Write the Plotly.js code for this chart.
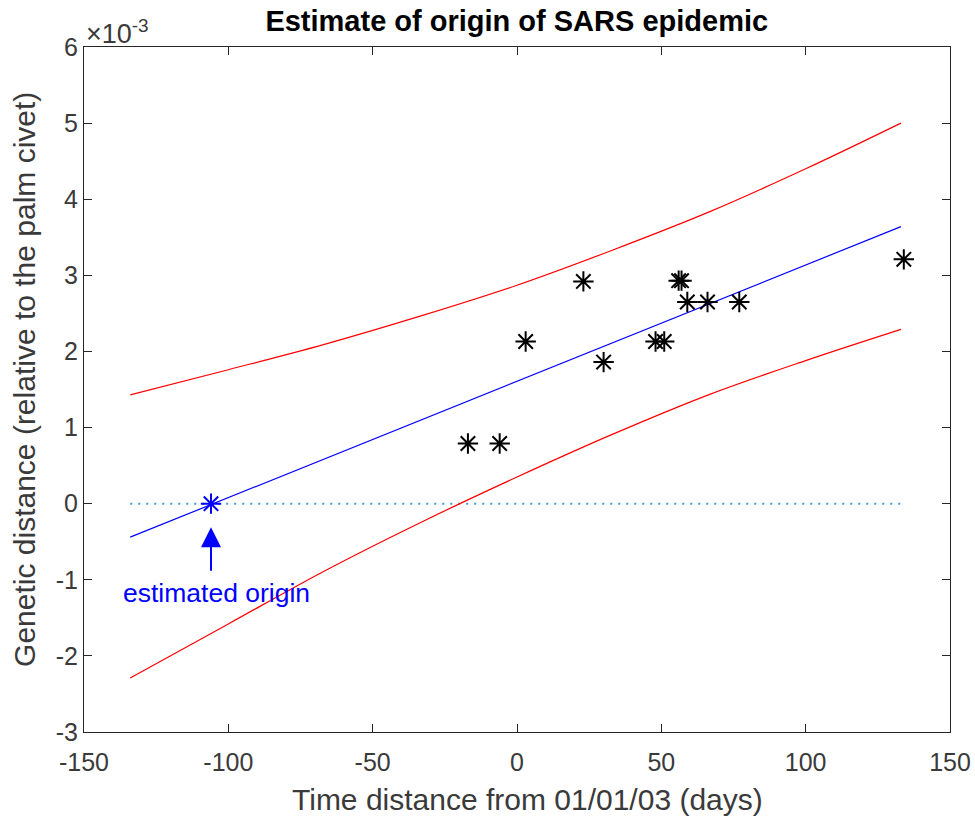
<!DOCTYPE html>
<html>
<head>
<meta charset="utf-8">
<script src="https://cdn.plot.ly/plotly-3.0.1.min.js"></script>
<style>html,body{margin:0;padding:0;background:#fff;}#chart{width:975px;height:818px;}</style>
</head>
<body>
<div id="chart"></div>
<script>
// Values in units of 1e-3 (genetic distance), x in days from 01/01/03
const sampleDays = [-17, -6, 3, 23, 30, 48, 51, 56, 57, 59, 66, 77, 134];
const sampleDist = [0.79, 0.79, 2.13, 2.92, 1.86, 2.13, 2.13, 2.93, 2.93, 2.65, 2.65, 2.65, 3.21];

const fitDays = [-134, 133];
const fitDist = [-0.44, 3.64];

const bandDays  = [-134, -100, -67, -33, 0, 33, 67, 100, 133];
const bandUpper = [1.43, 1.76, 2.09, 2.47, 2.87, 3.33, 3.84, 4.40, 5.00];
const bandLower = [-2.29, -1.58, -0.89, -0.24, 0.35, 0.91, 1.44, 1.88, 2.29];

const zeroDays = [-134, 133];
const zeroDist = [0, 0];

const originDay = [-106];
const originDist = [0];

const xTicks = [-150, -100, -50, 0, 50, 100, 150];
const yTicks = [-3, -2, -1, 0, 1, 2, 3, 4, 5, 6];

const FONT = 'Liberation Sans, Arial, Helvetica, sans-serif';
const AX = '#262626';
const TXT = '#3a3a3a';

const traces = [
  {x: zeroDays, y: zeroDist, mode: 'lines', line: {color: '#3d9be0', width: 2, dash: '2px,6px'}, hoverinfo: 'skip'},
  {x: bandDays, y: bandUpper, mode: 'lines', line: {color: '#ff0000', width: 1.2, shape: 'spline'}},
  {x: bandDays, y: bandLower, mode: 'lines', line: {color: '#ff0000', width: 1.2, shape: 'spline'}},
  {x: fitDays, y: fitDist, mode: 'lines', line: {color: '#0000ff', width: 1.2}},
  {x: sampleDays, y: sampleDist, mode: 'markers',
   marker: {symbol: 'asterisk-open', size: 17, color: '#000000', line: {color: '#000000', width: 2}}},
  {x: originDay, y: originDist, mode: 'markers',
   marker: {symbol: 'asterisk-open', size: 17, color: '#0000ff', line: {color: '#0000ff', width: 2}}}
];

const axisCommon = {
  showgrid: false, zeroline: false, showline: true, mirror: 'ticks',
  linecolor: AX, linewidth: 1, ticks: 'inside', ticklen: 8, tickcolor: AX, tickwidth: 1,
  tickfont: {family: FONT, size: 25, color: TXT}
};

const layout = {
  width: 975, height: 818,
  margin: {l: 84, r: 25, t: 47, b: 86},
  paper_bgcolor: '#ffffff', plot_bgcolor: '#ffffff',
  showlegend: false,
  title: {text: '<b>Estimate of origin of SARS epidemic</b>', font: {family: FONT, size: 29, color: '#000000'},
          x: 0.53, xanchor: 'center', y: 0.974, yanchor: 'middle', yref: 'container'},
  xaxis: Object.assign({}, axisCommon, {
    range: [-150, 150], tickvals: xTicks, ticktext: xTicks.map(String), ticklabelstandoff: 8,
    title: {text: ''}
  }),
  yaxis: Object.assign({}, axisCommon, {
    range: [-3, 6], tickvals: yTicks, ticktext: yTicks.map(String),
    title: {text: ''}
  }),
  annotations: [
    {xref: 'paper', yref: 'paper', x: 0, y: 1, xanchor: 'left', yanchor: 'bottom', showarrow: false,
     text: '×10<sup>-3</sup>', font: {family: FONT, size: 27, color: TXT}, yshift: -4},
    {xref: 'x', yref: 'y', x: -106, y: -0.31, axref: 'x', ayref: 'y', ax: -106, ay: -0.9,
     text: '', showarrow: true, arrowhead: 2, arrowsize: 2, arrowwidth: 2, arrowcolor: '#0000ff'},
    {xref: 'x', yref: 'y', x: -104, y: -1.17, showarrow: false, text: 'estimated origin',
     font: {family: FONT, size: 26.5, color: '#0000ff'}, xanchor: 'center', yanchor: 'middle'},
    {xref: 'paper', yref: 'paper', x: 0.512, y: -0.099, xanchor: 'center', yanchor: 'middle', showarrow: false,
     text: 'Time distance from 01/01/03 (days)', font: {family: FONT, size: 30, color: TXT}},
    {xref: 'paper', yref: 'paper', x: -0.0685, y: 0.515, xanchor: 'center', yanchor: 'middle', showarrow: false,
     textangle: -90, text: 'Genetic distance (relative to the palm civet)', font: {family: FONT, size: 30, color: TXT}}
  ]
};

Plotly.newPlot('chart', traces, layout, {staticPlot: true, displayModeBar: false});
</script>
</body>
</html>
